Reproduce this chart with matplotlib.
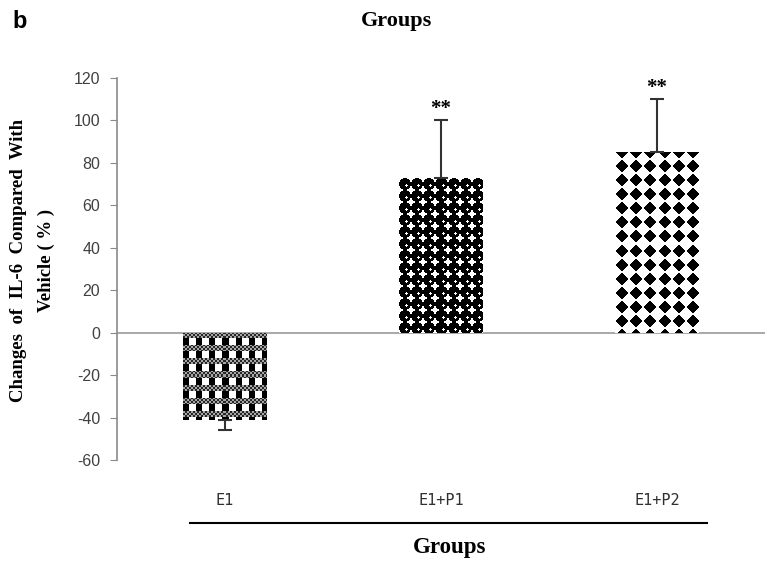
import numpy as np
import matplotlib.pyplot as plt
from matplotlib.lines import Line2D

groups = ['E1', 'E1+P1', 'E1+P2']
changes = [-41, 73, 85]
errors = [5, 27, 25]
marks = ['', '**', '**']
y_ticks = list(range(-60, 121, 20))

W, H = 770, 565
fig = plt.figure(figsize=(W / 100, H / 100), dpi=100)
ax = fig.add_axes([117 / W, 1 - 460 / H, 648 / W, 382 / H])
ax.set_xlim(0, 3)
ax.set_ylim(-60, 120)

px_x = 648 / 3.0
px_y = 382 / 180.0


def pattern_checks(h, w):
    # checkered gray bands with black blocks in between
    yy, xx = np.mgrid[0:h, 0:w]
    img = np.ones((h, w))
    band = (yy % 13) < 6
    dots = ((yy // 2 + xx // 2) % 2 == 0)
    img[band & dots] = 0.15
    img[band & ~dots] = 0.65
    block = (~band) & ((xx % 13) < 6)
    img[block] = 0.0
    return img


def pattern_circles(h, w):
    yy, xx = np.mgrid[0:h, 0:w]
    cx = (xx % 12) - 5.5
    cy = (yy % 12) - 5.5
    img = np.ones((h, w))
    img[cx ** 2 + cy ** 2 < 34] = 0.0
    img[(cx - 1.5) ** 2 + (cy - 1.5) ** 2 < 2] = 1.0
    return img


def pattern_diamonds(h, w):
    yy, xx = np.mgrid[0:h, 0:w]
    cx = np.abs((xx % 14) - 6.5)
    cy = np.abs(((yy + 7) % 14) - 6.5)
    img = np.ones((h, w))
    img[cx + cy < 6.3] = 0.0
    return img


patterns = [pattern_checks, pattern_circles, pattern_diamonds]
bar_w = 0.385
xs = np.arange(len(groups)) + 0.5

bars = ax.bar(xs, changes, width=bar_w, color='none', edgecolor='none', zorder=2)
for b, make in zip(bars, patterns):
    x0 = b.get_x()
    y0 = min(b.get_y(), b.get_y() + b.get_height())
    y1 = max(b.get_y(), b.get_y() + b.get_height())
    wp = int(round(b.get_width() * px_x))
    hp = int(round((y1 - y0) * px_y))
    img = make(hp, wp)
    im = ax.imshow(img, cmap='gray', vmin=0, vmax=1, interpolation='nearest',
                   extent=[x0, x0 + b.get_width(), y0, y1], aspect='auto', zorder=2)
    im.set_clip_path(b)

# one-sided error bars
for x, v, e in zip(xs, changes, errors):
    lo, hi = (e, 0) if v < 0 else (0, e)
    ax.errorbar(x, v, yerr=[[lo], [hi]], fmt='none', ecolor='#333333',
                elinewidth=1.5, capsize=5, capthick=1.5, zorder=3)

for x, v, e, m in zip(xs, changes, errors, marks):
    if m:
        ax.text(x, v + e + 0.5, m, ha='center', va='bottom', fontsize=15,
                fontweight='bold', family='Liberation Serif', zorder=4)

ax.axhline(0, color='#9a9a9a', lw=1.2, zorder=1)
ax.set_ylim(-60, 120)
ax.set_xlim(0, 3)

for s in ['top', 'right', 'bottom']:
    ax.spines[s].set_visible(False)
ax.spines['left'].set_color('#8a8a8a')
ax.spines['left'].set_linewidth(1.2)

ax.set_yticks(y_ticks)
ax.set_yticklabels([str(t) for t in y_ticks], family='Liberation Sans',
                   fontsize=11.5, color='#404040')
ax.tick_params(axis='y', direction='out', length=5, color='#8a8a8a', pad=7)
ax.set_xticks(xs)
ax.set_xticklabels(groups, family='DejaVu Sans Mono', fontsize=11, color='#303030')
ax.tick_params(axis='x', length=0, pad=24)

fig.text(19 / W, 1 - 260 / H, 'Changes  of  IL-6  Compared  With',
         rotation=90, ha='center', va='center', family='Liberation Serif',
         fontweight='bold', fontsize=13.5)
fig.text(46 / W, 1 - 260 / H, 'Vehicle ( % )',
         rotation=90, ha='center', va='center', family='Liberation Serif',
         fontweight='bold', fontsize=13.5)

fig.text(397 / W, 1 - 21 / H, 'Groups', ha='center', va='center',
         family='Liberation Serif', fontweight='bold', fontsize=16)
fig.text(12 / W, 1 - 22 / H, 'b', ha='left', va='center',
         family='Liberation Sans', fontweight='bold', fontsize=17)

fig.add_artist(Line2D([190 / W, 707 / W], [1 - 523 / H, 1 - 523 / H],
                      color='black', lw=1.5))
fig.text(450 / W, 1 - 548 / H, 'Groups', ha='center', va='center',
         family='Liberation Serif', fontweight='bold', fontsize=16.5)

fig.savefig('out.png', dpi=100)
